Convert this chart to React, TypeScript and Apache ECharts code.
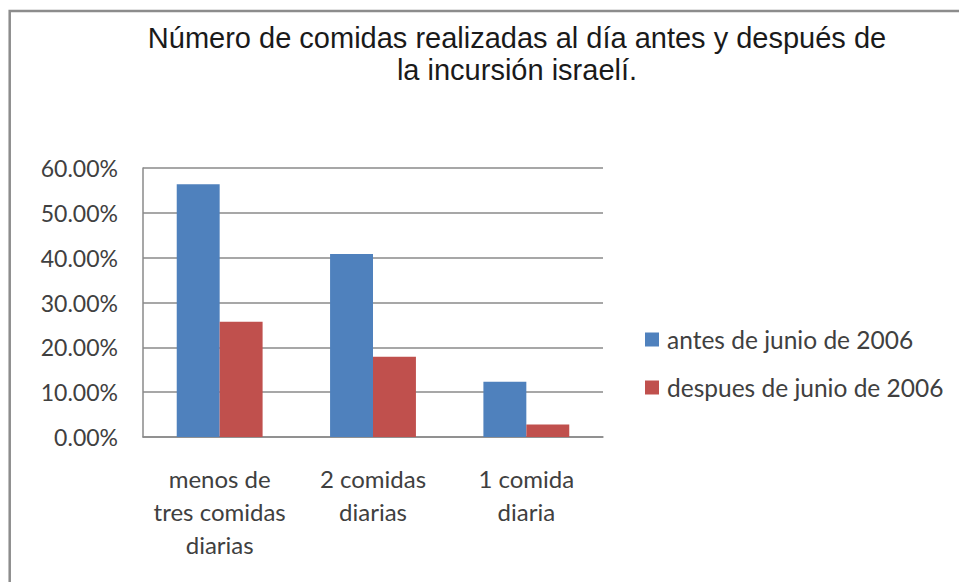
import React, { useEffect, useRef } from "react";
import * as echarts from "echarts";

const titleLines = [
  "Número de comidas realizadas al día antes y después de",
  "la incursión israelí.",
];
const categories = [
  "menos de\ntres comidas\ndiarias",
  "2 comidas\ndiarias",
  "1 comida\ndiaria",
];
const seriesNames = ["antes de junio de 2006", "despues de junio de 2006"];
const antes = [0.564, 0.408, 0.123];
const despues = [0.257, 0.179, 0.028];
const yMin = 0;
const yMax = 0.6;
const yInterval = 0.1;

export default function App() {
  const ref = useRef<HTMLDivElement>(null);
  useEffect(() => {
    if (!ref.current) return;
    const chart = echarts.init(ref.current, undefined, { renderer: "svg" });
    const labelFont = "Lato, 'Open Sans', sans-serif";
    chart.setOption({
      animation: false,
      backgroundColor: "#ffffff",
      title: {
        text: titleLines.join("\n"),
        left: 512,
        top: 17,
        textAlign: "center",
        textStyle: {
          fontFamily: "'Liberation Sans', Arial, sans-serif",
          fontSize: 29,
          fontWeight: "normal",
          lineHeight: 32,
          color: "#1a1a1a",
        },
      },
      graphic: [
        {
          type: "rect",
          shape: { x: 9.7, y: 11, width: 2000, height: 2000 },
          style: { fill: "none", stroke: "#8c8c8c", lineWidth: 2.5 },
          silent: true,
          z: -1,
        },
      ],
      legend: {
        orient: "vertical",
        left: 640,
        top: 322,
        itemWidth: 14,
        itemHeight: 14,
        itemGap: 23,
        icon: "rect",
        textStyle: {
          fontFamily: labelFont,
          fontSize: 24.5,
          color: "#404040",
          padding: [0, 0, 0, 3],
        },
        data: seriesNames,
      },
      grid: { left: 143, right: 356, top: 168, bottom: 145, containLabel: false },
      xAxis: {
        type: "category",
        data: categories,
        axisLine: { show: true, lineStyle: { color: "#8a8a8a", width: 1.5 } },
        axisTick: { show: false },
        axisLabel: {
          fontFamily: labelFont,
          fontSize: 24,
          color: "#404040",
          lineHeight: 33,
          margin: 25,
          interval: 0,
        },
      },
      yAxis: {
        type: "value",
        min: yMin,
        max: yMax,
        interval: yInterval,
        axisLine: { show: true, lineStyle: { color: "#8a8a8a", width: 1.5 } },
        axisTick: { show: false },
        splitLine: { show: true, lineStyle: { color: "#8a8a8a", width: 1.5 } },
        axisLabel: {
          fontFamily: labelFont,
          fontSize: 23,
          color: "#404040",
          margin: 25,
          formatter: (v: number) => (v * 100).toFixed(2) + "%",
        },
      },
      series: [
        {
          name: seriesNames[0],
          type: "bar",
          data: antes,
          itemStyle: { color: "#4F81BD" },
          barGap: "0%",
          barCategoryGap: "44%",
        },
        {
          name: seriesNames[1],
          type: "bar",
          data: despues,
          itemStyle: { color: "#C0504D" },
          barGap: "0%",
          barCategoryGap: "44%",
        },
      ],
    });
    return () => chart.dispose();
  }, []);
  return (
    <div
      ref={ref}
      style={{ position: "absolute", left: 0, top: 0, width: 959, height: 582, background: "#fff" }}
    />
  );
}
